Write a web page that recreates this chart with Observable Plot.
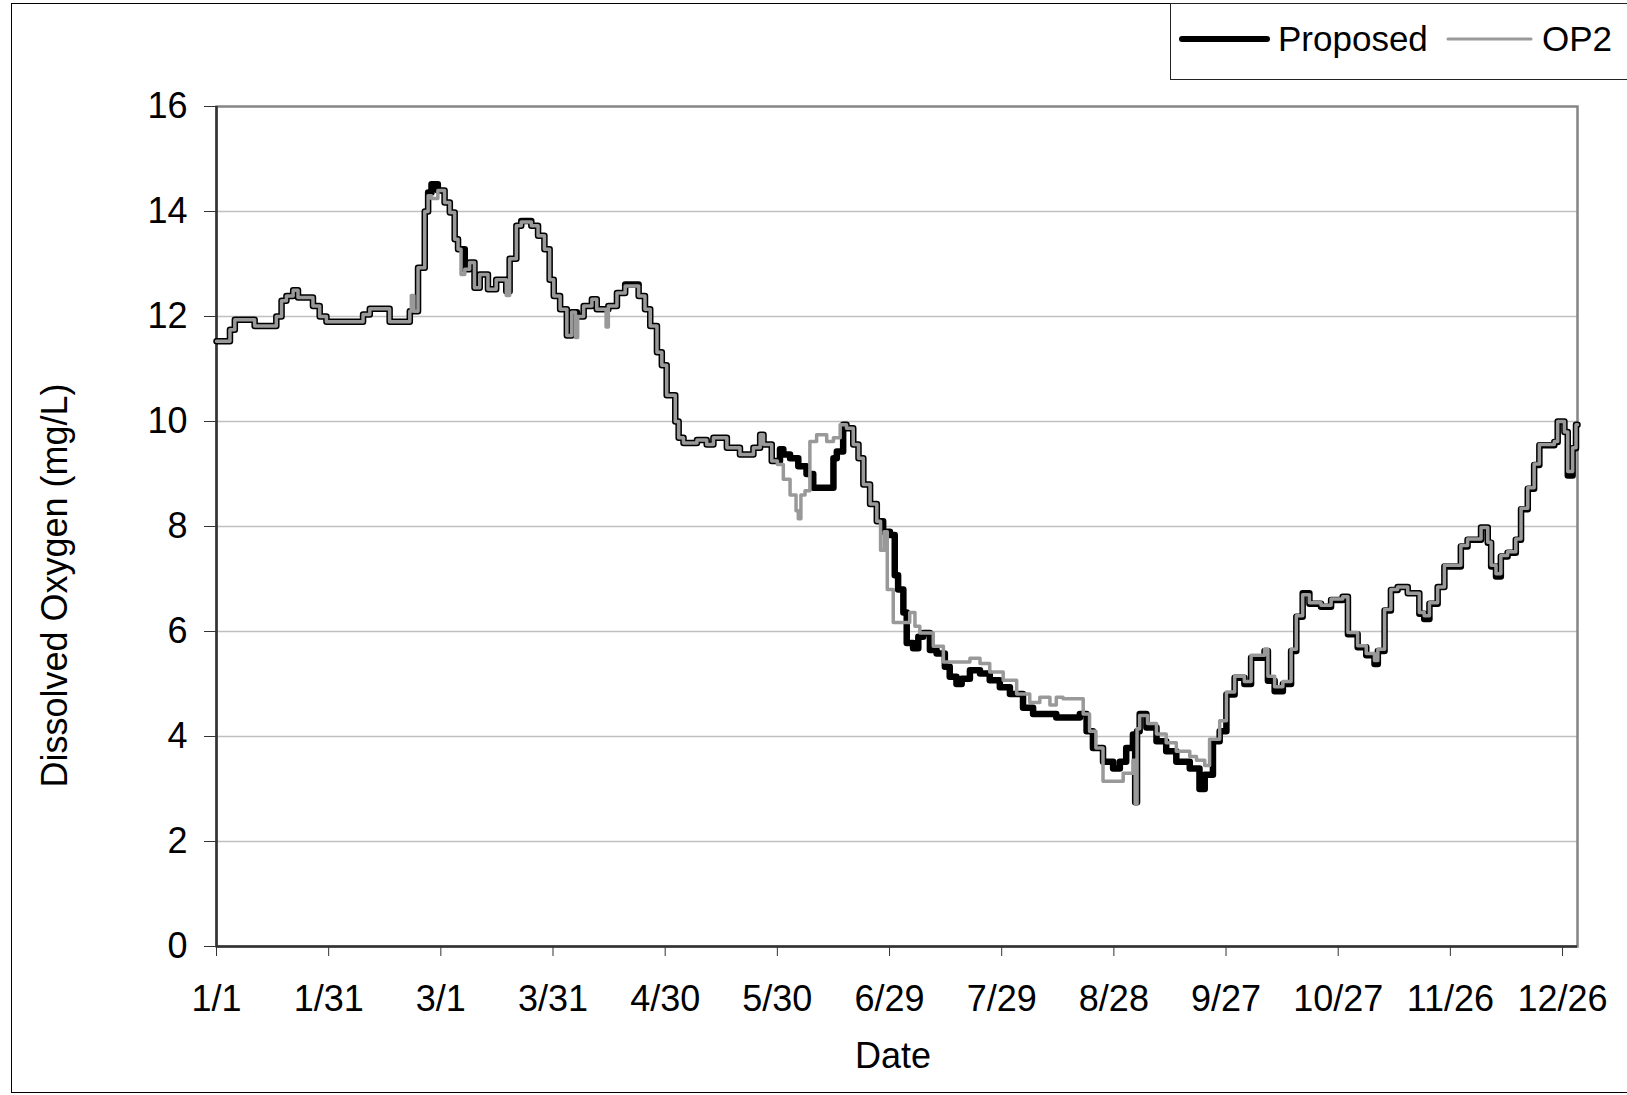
<!DOCTYPE html>
<html>
<head>
<meta charset="utf-8">
<script src="https://cdn.jsdelivr.net/npm/d3@7"></script>
<script src="https://cdn.jsdelivr.net/npm/@observablehq/plot@0.6"></script>
<style>
  html, body { margin: 0; padding: 0; background: #fff; }
  #wrap { position: relative; width: 1627px; height: 1095px; overflow: hidden; font-family: "Liberation Sans", Arial, sans-serif; }
  #outer { position: absolute; left: 11px; top: 3px; width: 1640px; height: 1090px; border: 1.5px solid #000; box-sizing: border-box; }
  #chart { position: absolute; left: 0; top: 0; }
  #legend { position: absolute; left: 1170px; top: 3px; width: 480px; height: 77px; border: 1.5px solid #222; box-sizing: border-box; background: #fff; }
</style>
</head>
<body>
<div id="wrap">
  <div id="outer"></div>
  <div id="chart"></div>
  <div id="legend"></div>
</div>
<script>
// ---- Data (day of year from 1/1, dissolved oxygen mg/L) ----
const tickDays = [0, 30, 60, 90, 120, 150, 180, 210, 240, 270, 300, 330, 360];
const yTicks = [0, 2, 4, 6, 8, 10, 12, 14, 16];
const seriesNames = ["Proposed", "OP2"];

const propDays = [0,3.6,4.9,10.2,16.0,17.4,18.7,20.5,21.8,25.8,27.6,29.4,39.2,41.0,46.3,51.7,53.9,55.7,56.6,57.5,59.2,61.0,62.4,63.7,64.6,66.4,67.7,69.0,70.4,72.6,74.8,77.5,78.4,80.2,81.5,84.2,86.0,87.7,89.1,90.2,91.9,93.7,95.0,96.4,98.2,100.4,101.7,104.8,107.1,109.3,112.9,114.6,116.0,117.8,119.1,120.4,122.7,123.6,124.9,128.5,131.1,132.9,136.5,140.0,143.6,145.4,146.3,148.5,150.7,151.6,153.4,155.6,157.8,159.6,165.0,165.9,167.6,168.5,170.3,171.7,173.0,174.8,176.6,178.3,180.1,181.4,182.3,183.7,184.6,186.3,187.7,189.0,190.8,192.6,194.8,196.1,197.9,199.3,201.5,204.2,206.8,209.5,212.2,215.7,218.4,224.6,230.9,232.7,234.4,237.1,239.8,241.6,243.3,245.1,245.7,246.2,246.9,248.7,251.4,254.0,256.7,260.3,262.9,264.3,266.5,268.3,270.1,272.3,274.9,276.7,280.3,281.2,283.0,285.2,287.4,288.8,290.5,292.3,295.4,298.1,301.2,302.6,305.2,307.5,309.7,310.6,312.4,314.1,315.9,318.6,321.7,323.0,324.4,326.6,328.4,332.8,334.6,338.2,340.0,340.9,342.2,343.5,345.3,347.5,348.9,350.7,352.4,353.8,357.8,358.7,360.5,361.4,362.7,363.6,364];
const propDO = [11.53,11.75,11.94,11.82,12.0,12.3,12.39,12.5,12.36,12.2,12.0,11.9,12.04,12.15,11.9,12.1,12.93,14.0,14.36,14.52,14.4,14.17,13.98,13.47,13.28,12.9,13.03,12.55,12.8,12.52,12.7,12.48,13.1,13.73,13.82,13.73,13.54,13.28,12.7,12.39,12.14,11.64,12.08,12.0,12.2,12.33,12.14,12.2,12.45,12.61,12.39,12.14,11.82,11.32,11.07,10.5,10.0,9.69,9.59,9.65,9.56,9.69,9.5,9.37,9.5,9.75,9.56,9.25,9.47,9.37,9.3,9.15,9.0,8.74,9.3,9.43,9.94,9.87,9.56,9.3,8.8,8.43,8.1,7.9,7.84,7.07,6.8,6.36,5.78,5.68,5.9,5.97,5.65,5.58,5.33,5.14,5.0,5.1,5.26,5.2,5.07,4.94,4.81,4.55,4.43,4.36,4.43,4.1,3.78,3.52,3.39,3.52,3.78,4.04,2.75,4.1,4.43,4.17,3.91,3.72,3.52,3.39,3.0,3.27,3.91,4.1,4.8,5.12,5.0,5.5,5.63,5.06,4.86,5.0,5.63,6.28,6.73,6.53,6.47,6.6,6.66,5.95,5.7,5.55,5.38,5.63,6.4,6.79,6.85,6.73,6.34,6.24,6.53,6.85,7.24,7.62,7.75,7.98,7.69,7.24,7.05,7.43,7.5,7.75,8.33,8.72,9.17,9.55,9.61,10.0,9.8,8.97,9.49,9.94,9.94];

const op2Days = [0,3.6,4.9,10.2,16.0,17.4,18.7,20.5,21.8,25.8,27.6,29.4,39.2,41.0,46.3,51.7,52.1,52.8,53.9,55.7,56.6,57.5,59.2,61.0,62.4,63.7,64.6,65.4,66.4,67.7,69.0,70.4,72.6,74.8,77.5,78.4,80.2,81.5,84.2,86.0,87.7,89.1,90.2,91.9,93.7,95.0,96.0,96.6,98.2,100.4,101.7,104.2,104.8,107.1,109.3,112.9,114.6,116.0,117.8,119.1,120.4,122.7,123.6,124.9,128.5,131.1,132.9,136.5,140.0,143.6,145.4,146.3,148.5,150.0,151.6,153.4,155.0,155.6,156.3,157.4,158.7,160.5,163.2,165.0,166.8,168.5,170.3,171.7,173.0,174.8,176.6,177.6,178.6,179.4,181.0,185.4,186.8,188.1,191.7,194.4,201.5,204.2,206.8,210.4,214.0,217.5,220.2,222.9,224.6,226.4,231.8,233.5,235.2,237.1,242.5,245.1,245.7,246.2,246.9,249.0,251.4,254.0,256.7,260.3,262.1,264.3,265.6,268.3,270.1,272.3,274.9,276.7,280.3,281.2,283.0,285.2,287.4,288.8,290.5,292.3,295.4,298.1,301.2,302.6,305.2,307.5,309.7,310.6,312.4,314.1,315.9,318.6,321.7,323.0,324.4,326.6,328.4,332.8,334.6,338.2,340.0,340.9,342.2,343.5,345.3,347.5,348.9,350.7,352.4,353.8,357.8,358.7,360.5,361.4,362.7,363.6,364];
const op2DO = [11.53,11.75,11.94,11.82,12.0,12.3,12.39,12.5,12.36,12.2,12.0,11.9,12.04,12.15,11.9,12.1,12.4,12.1,12.93,14.0,14.3,14.25,14.4,14.17,13.98,13.47,13.28,12.8,12.9,13.03,12.55,12.8,12.52,12.7,12.4,13.1,13.73,13.8,13.73,13.54,13.28,12.7,12.39,12.14,11.64,12.08,11.6,12.0,12.2,12.33,12.14,11.8,12.2,12.45,12.58,12.39,12.14,11.82,11.32,11.07,10.5,10.0,9.69,9.59,9.65,9.56,9.69,9.5,9.37,9.5,9.75,9.56,9.25,9.18,8.9,8.6,8.3,8.15,8.6,8.68,9.62,9.75,9.62,9.69,9.94,9.87,9.56,9.3,8.8,8.43,8.1,7.55,7.9,6.8,6.17,6.36,6.1,5.97,5.72,5.42,5.49,5.39,5.23,5.07,4.81,4.65,4.75,4.6,4.75,4.72,4.43,4.1,3.78,3.15,3.3,3.55,2.72,4.15,4.4,4.25,4.05,3.88,3.72,3.62,3.55,3.45,3.95,4.3,4.85,5.15,5.05,5.55,5.66,5.15,4.95,5.05,5.66,6.3,6.7,6.55,6.5,6.62,6.66,5.98,5.73,5.58,5.45,5.66,6.42,6.8,6.85,6.73,6.36,6.3,6.55,6.85,7.26,7.64,7.76,7.98,7.7,7.26,7.1,7.45,7.52,7.76,8.35,8.74,9.19,9.56,9.62,10.0,9.8,9.05,9.5,9.94,9.94];

const proposed = propDays.map((d, i) => ({day: d, v: propDO[i]}));
const op2 = op2Days.map((d, i) => ({day: d, v: op2DO[i]}));

const base = new Date(2004, 0, 1);
const fmtDay = d => { const t = d3.timeDay.offset(base, d); return `${t.getMonth() + 1}/${t.getDate()}`; };

const plot = Plot.plot({
  width: 1627,
  height: 1095,
  marginLeft: 216,
  marginRight: 50,
  marginTop: 106,
  marginBottom: 149,
  style: {fontFamily: "'Liberation Sans', Arial, sans-serif", fontSize: "36px", color: "#000", background: "transparent", overflow: "visible"},
  x: {domain: [0, 364]},
  y: {domain: [0, 16]},
  marks: [
    Plot.gridY(yTicks.filter(t => t > 0 && t < 16), {stroke: "#c0c0c0", strokeOpacity: 1, strokeWidth: 1.3}),
    Plot.frame({stroke: "#858585", strokeWidth: 2.5}),
    Plot.ruleX([0], {stroke: "#333", strokeWidth: 2.5}),
    Plot.ruleY([0], {stroke: "#333", strokeWidth: 2.5}),
    Plot.axisX({ticks: tickDays, tickFormat: fmtDay, tickSize: 10, tickPadding: 29, label: null, stroke: "#333", fontSize: 36}),
    Plot.axisY({ticks: yTicks, tickSize: 12, tickPadding: 17, label: null, stroke: "#333", fontSize: 36}),
    Plot.line(proposed, {x: "day", y: "v", curve: "step-after", stroke: "#000", strokeWidth: 6.5, strokeLinejoin: "round"}),
    Plot.line(op2, {x: "day", y: "v", curve: "step-after", stroke: "#999999", strokeWidth: 3.5, strokeLinejoin: "round"}),
    Plot.text(["Dissolved Oxygen (mg/L)"], {frameAnchor: "left", rotate: -90, dx: -161, dy: 59, fontSize: 36, textAnchor: "middle", lineAnchor: "middle"}),
    Plot.text(["Date"], {frameAnchor: "bottom", dy: 110, fontSize: 36, textAnchor: "middle", lineAnchor: "middle", dx: -4})
  ]
});
document.getElementById("chart").appendChild(plot);

// Legend
const lg = d3.select("#legend").append("svg").attr("width", 480).attr("height", 74)
  .style("position", "absolute").style("left", "-1.5px").style("top", "-1.5px");
const items = [
  {name: seriesNames[0], x1: 12, x2: 97, tx: 108, stroke: "#000", w: 6},
  {name: seriesNames[1], x1: 278, x2: 361, tx: 372, stroke: "#999999", w: 3}
];
items.forEach(it => {
  lg.append("line").attr("x1", it.x1).attr("x2", it.x2).attr("y1", 36).attr("y2", 36)
    .attr("stroke", it.stroke).attr("stroke-width", it.w).attr("stroke-linecap", "round");
  lg.append("text").attr("x", it.tx).attr("y", 48).text(it.name)
    .attr("font-family", "'Liberation Sans', Arial, sans-serif").attr("font-size", 35).attr("fill", "#000");
});
</script>
</body>
</html>
